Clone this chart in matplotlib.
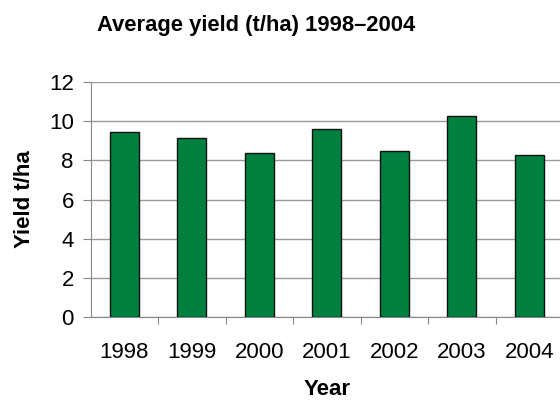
import matplotlib
matplotlib.use("Agg")
import matplotlib.pyplot as plt

years = ["1998", "1999", "2000", "2001", "2002", "2003", "2004"]
yields = [9.45, 9.15, 8.35, 9.6, 8.47, 10.24, 8.27]
y_ticks = [0, 2, 4, 6, 8, 10, 12]

plt.rcParams["font.family"] = ["Liberation Sans", "DejaVu Sans"]

W, H = 560, 401
fig = plt.figure(figsize=(W / 100, H / 100), dpi=100)
ax = fig.add_axes([90.5 / W, (H - 317.3) / H, 472.5 / W, 235.6 / H])

x = list(range(len(years)))
ax.bar(x, yields, width=0.43, color="#00803e", edgecolor="#111111", linewidth=1.0, zorder=3)

ax.set_xlim(-0.5, len(years) - 0.5)
ax.set_ylim(0, 12)
ax.set_yticks(y_ticks)
ax.set_yticklabels([str(v) for v in y_ticks], fontsize=16)
# category boundaries get the tick marks, labels sit in the middle
ax.set_xticks([i + 0.5 for i in x[:-1]], minor=False)
ax.set_xticklabels([])
ax.set_xticks(x, minor=True)
ax.set_xticklabels(years, minor=True, fontsize=16)
ax.tick_params(axis="x", which="minor", length=0, pad=18)
ax.tick_params(axis="x", which="major", length=5, color="#888888")
ax.tick_params(axis="y", length=6, color="#888888", pad=6)

ax.grid(axis="y", color="#999999", linewidth=1.0, zorder=0)
for s in ["top", "right"]:
    ax.spines[s].set_visible(False)
for s in ["left", "bottom"]:
    ax.spines[s].set_color("#888888")

ax.set_ylabel("Yield t/ha", fontsize=16, fontweight="bold", labelpad=10)
ax.set_xlabel("Year", fontsize=16, fontweight="bold", labelpad=11)
fig.text(256 / W, 1 - 26 / H, "Average yield (t/ha) 1998\u20132004",
         fontsize=15.8, fontweight="bold", ha="center", va="center")

fig.savefig("out.png", dpi=100)
